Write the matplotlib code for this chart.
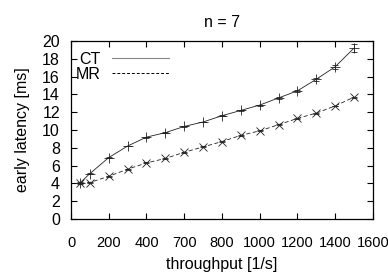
import matplotlib
matplotlib.use('Agg')
import matplotlib.pyplot as plt
import numpy as np
from matplotlib.lines import Line2D

plt.rcParams['font.family'] = ['Liberation Sans', 'DejaVu Sans']

# throughput [1/s]
x = [50, 100, 200, 300, 400, 500, 600, 700, 800, 900, 1000, 1100, 1200, 1300, 1400, 1500]
# early latency [ms]
ct = [4.1, 5.1, 6.9, 8.2, 9.2, 9.7, 10.4, 10.9, 11.6, 12.2, 12.8, 13.6, 14.4, 15.7, 17.1, 19.2]
ct_err = [0.05, 0.05, 0.05, 0.05, 0.05, 0.05, 0.05, 0.05, 0.05, 0.05, 0.05, 0.1, 0.1, 0.15, 0.25, 0.45]
mr = [4.0, 4.1, 4.8, 5.6, 6.3, 6.8, 7.5, 8.1, 8.7, 9.4, 9.9, 10.6, 11.3, 11.9, 12.7, 13.7]
mr_err = [0.05] * len(x)

xticks = [0, 200, 400, 600, 800, 1000, 1200, 1400, 1600]
xlabels = ['0', '200', '400', '700', '800', '1000', '1200', '1400', '1600']
yticks = np.arange(0, 21, 2)

fs = 11.5
fig = plt.figure(figsize=(3.88, 2.76), dpi=100)
ax = fig.add_axes([0.183, 0.2065, 0.778, 0.645])

ax.errorbar(x, ct, yerr=ct_err, color='#222222', lw=0.6, elinewidth=0.5,
            capsize=2, capthick=0.5, marker='+', ms=7, mew=0.6)
ax.errorbar(x, mr, yerr=mr_err, color='#222222', lw=0.6, ls=(0, (5, 3)),
            elinewidth=0.5, capsize=2, capthick=0.5, marker='x', ms=6, mew=0.6)

ax.set_xlim(0, 1600)
ax.set_ylim(0, 20)
ax.set_xticks(xticks)
ax.set_xticklabels(xlabels, fontsize=fs - 1)
ax.set_yticks(yticks)
ax.tick_params(direction='in', top=True, right=True, length=4.5, width=0.8,
               labelsize=fs)
ax.tick_params(axis='x', pad=12, labelsize=fs - 1)
ax.tick_params(axis='y', pad=8)
for s in ax.spines.values():
    s.set_linewidth(0.9)

ax.set_title('n = 7', fontsize=fs, pad=10)
ax.set_xlabel('throughput [1/s]', fontsize=fs, labelpad=5)
ax.set_ylabel('early latency [ms]', fontsize=fs, labelpad=9)

handles = [Line2D([], [], color='#888888', lw=0.8),
           Line2D([], [], color='black', lw=0.7, ls=(0, (3, 2)))]
ax.legend(handles, ['CT', 'MR'], loc='upper left', frameon=False,
          markerfirst=False, fontsize=fs, handlelength=3.6, handletextpad=0.7,
          labelspacing=0.0, borderaxespad=0.0, bbox_to_anchor=(-0.005, 0.975))

fig.savefig('out.png', dpi=100)
